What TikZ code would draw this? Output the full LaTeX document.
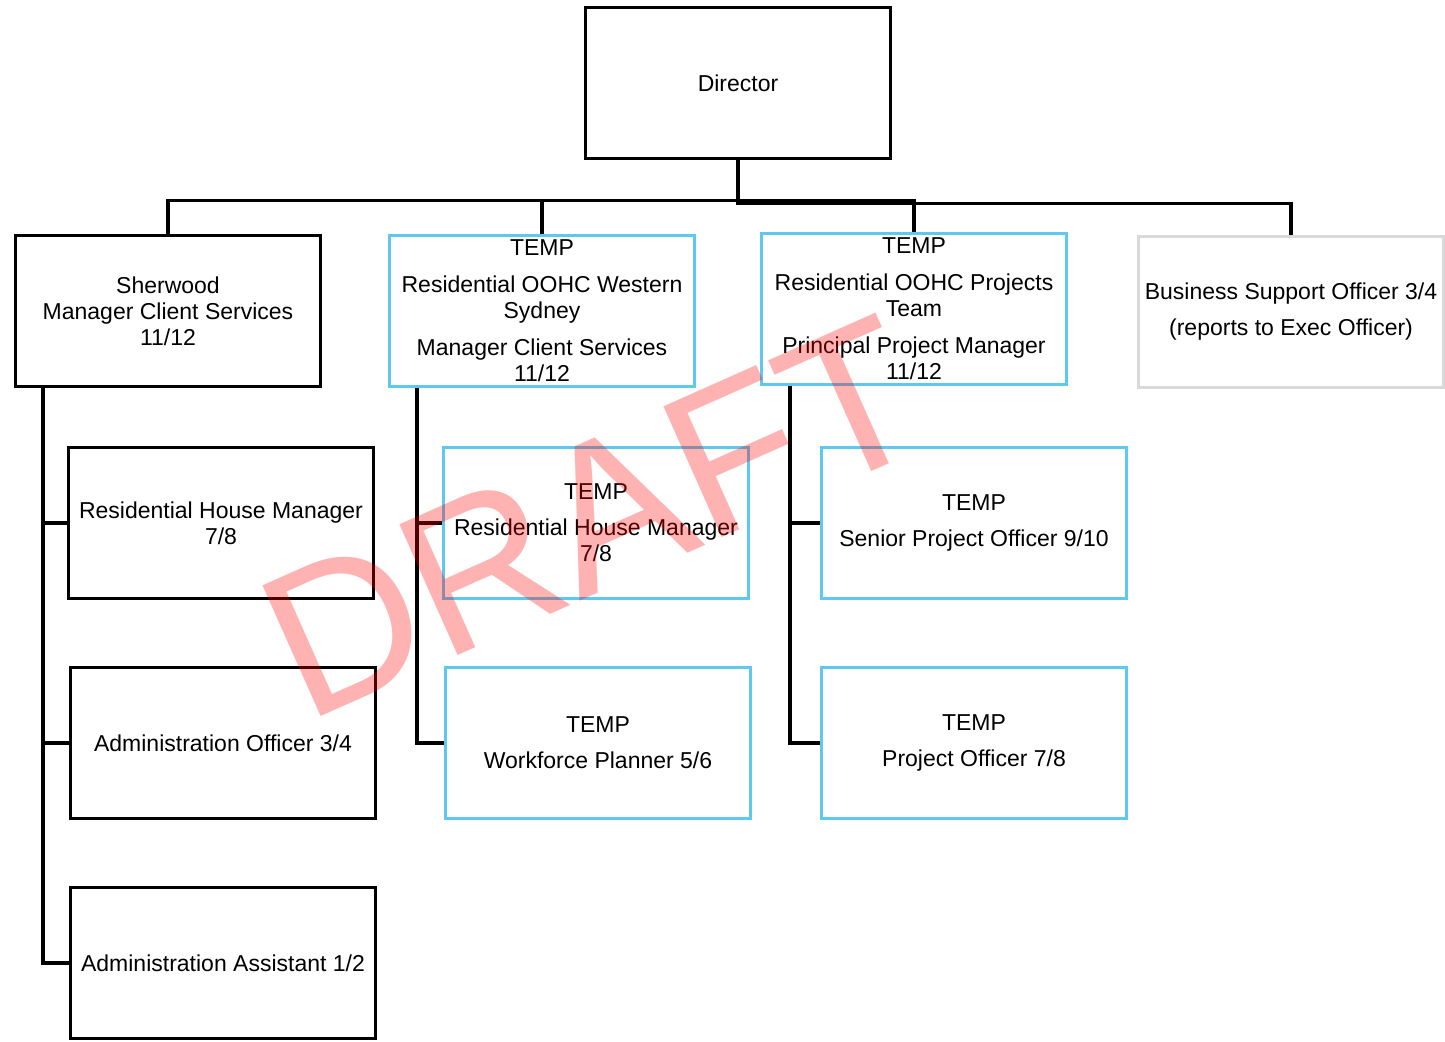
\documentclass[tikz,border=0pt]{standalone}
\usepackage{fontspec}
\setmainfont{Liberation Sans}
\definecolor{tempblue}{RGB}{94,200,240}
\definecolor{extgray}{RGB}{217,217,217}

\begin{document}
\begin{tikzpicture}[x=1pt,y=-1pt,
	post/.style={draw=black,line width=3.4pt,minimum width=305pt,minimum height=151pt,inner sep=0pt,align=center,font=\fontsize{23}{26}\selectfont},
	temppost/.style={post,draw=tempblue},
	extpost/.style={post,draw=extgray},
	link/.style={draw=black,line width=3.4pt},
	draftmark/.style={rotate=24,text=red,text opacity=0.3,inner sep=0pt,font=\fontsize{208}{208}\selectfont}]
	\useasboundingbox (0,0) rectangle (1445,1041);
	% top row
	\node[post] (dir) at (738,83) {Director};
	\node[post] (sher) at (168,311) {Sherwood\\Manager Client Services\\11/12};
	\node[temppost] (west) at (542,311) {TEMP\\[11pt]Residential OOHC Western\\Sydney\\[11pt]Manager Client Services\\11/12};
	\node[temppost] (proj) at (914,309) {TEMP\\[11pt]Residential OOHC Projects\\Team\\[11pt]Principal Project Manager\\11/12};
	\node[extpost] (bso) at (1291,312) {Business Support Officer 3/4\\[10pt](reports to Exec Officer)};
	% Sherwood team
	\node[post] (rhm) at (221,523) {Residential House Manager\\7/8};
	\node[post] (ao) at (223,743) {Administration Officer 3/4};
	\node[post] (aa) at (223,963) {Administration Assistant 1/2};
	% Western Sydney team
	\node[temppost] (trhm) at (596,523) {TEMP\\[10pt]Residential House Manager\\7/8};
	\node[temppost] (wfp) at (598,743) {TEMP\\[10pt]Workforce Planner 5/6};
	% projects team
	\node[temppost] (spo) at (974,523) {TEMP\\[10pt]Senior Project Officer 9/10};
	\node[temppost] (po) at (974,743) {TEMP\\[10pt]Project Officer 7/8};
	% lines from director
	\draw[link] (dir.south) -- ++(0,40) -| (sher.north);
	\draw[link] (dir.south) -- ++(0,40) -| (west.north);
	\draw[link] (dir.south) -- ++(0,40) -| (proj.north);
	\draw[link] (dir.south) -- ++(0,43) -| (bso.north);
	% spines
	\draw[link] ([xshift=29pt]sher.south west) |- (rhm.west);
	\draw[link] ([xshift=29pt]sher.south west) |- (ao.west);
	\draw[link] ([xshift=29pt]sher.south west) |- (aa.west);
	\draw[link] ([xshift=29pt]west.south west) |- (trhm.west);
	\draw[link] ([xshift=29pt]west.south west) |- (wfp.west);
	\draw[link] ([xshift=30pt]proj.south west) |- (spo.west);
	\draw[link] ([xshift=30pt]proj.south west) |- (po.west);
	% watermark
	\node[draftmark] (wm) at (593,517) {DRAFT};
\end{tikzpicture}
\end{document}
